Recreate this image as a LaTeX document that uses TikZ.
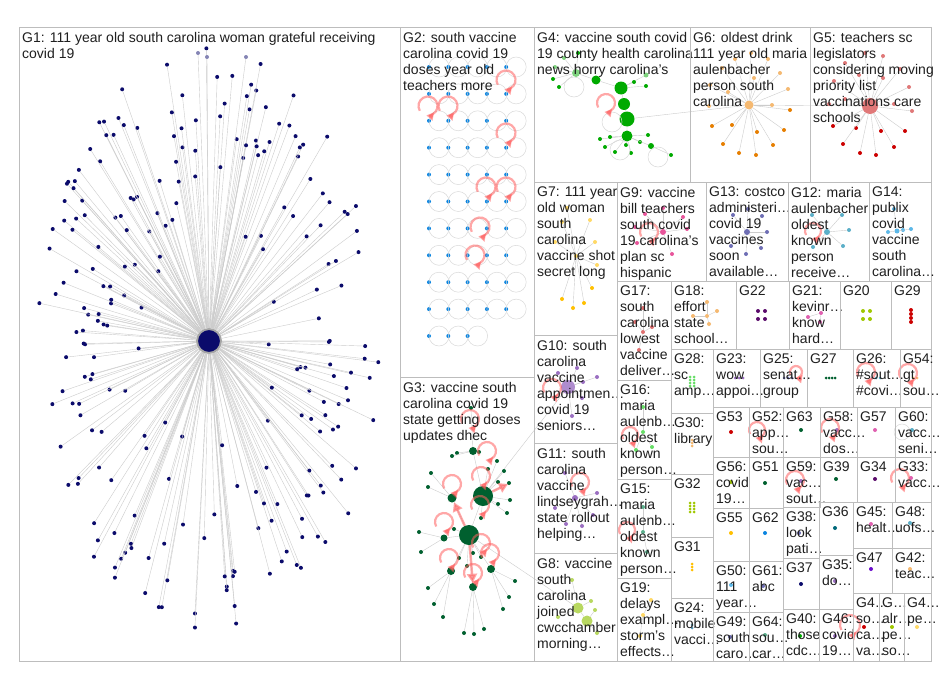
\documentclass[tikz,border=0pt]{standalone}
\usepackage{fontspec}
\setmainfont{Liberation Sans}
\usetikzlibrary{arrows.meta}

\definecolor{cframe}{HTML}{BDBDBD}
\definecolor{cnavy}{HTML}{0B0B6B}
\definecolor{cblue}{HTML}{0A84E0}
\definecolor{cgreen}{HTML}{00AA00}
\definecolor{clgreen}{HTML}{7FD37F}
\definecolor{cdgreen}{HTML}{00602F}
\definecolor{corange}{HTML}{E67E00}
\definecolor{clorange}{HTML}{F5B971}
\definecolor{cred}{HTML}{CC0000}
\definecolor{clred}{HTML}{E07878}
\definecolor{cgold}{HTML}{FFC000}
\definecolor{clgold}{HTML}{FFD966}
\definecolor{cpink}{HTML}{E8559B}
\definecolor{cslate}{HTML}{6E6EB4}
\definecolor{cteal}{HTML}{5BAFC8}
\definecolor{cdteal}{HTML}{00687A}
\definecolor{csky}{HTML}{5CB8E8}
\definecolor{crose}{HTML}{E07070}
\definecolor{cplum}{HTML}{5A0A6B}
\definecolor{cpurple}{HTML}{6A0DCC}
\definecolor{cmagenta}{HTML}{E060B0}
\definecolor{clime}{HTML}{A0C800}
\definecolor{cviolet}{HTML}{9B6FC2}
\definecolor{cyellowgreen}{HTML}{B8D860}
\definecolor{cmint}{HTML}{66DD66}
\definecolor{cjade}{HTML}{5AAF8C}
\definecolor{csteel}{HTML}{5B9BB8}
\definecolor{cloop}{HTML}{FF6060}

\tikzset{
  box/.style={draw=cframe, line width=0.8pt},
  lbl/.style={anchor=north west, align=left, inner sep=0pt, text=black!88,
    font=\fontsize{14}{16}\selectfont},
  vtx/.style={circle, inner sep=0pt, minimum size=4pt, fill=#1},
  edge/.style={draw=black!20, line width=0.4pt},
  greyloop/.style={draw=black!15, line width=0.5pt},
  redloop/.style={draw=cloop, opacity=0.55, line width=2.2pt,
    -{Triangle[length=7pt,width=8pt]}},
  redarrow/.style={draw=cloop, opacity=0.55, line width=2.5pt,
    -{Triangle[length=9pt,width=10pt]}}
}

% group box with its label
\newcommand{\grp}[6]{%
  \draw[box] (#2,#3) rectangle (#4,#5);
  \node[lbl] (#1) at (#2+3,#3+5) {#6};}
% hub and its leaves
\newcommand{\hubstar}[3]{%
  \foreach \px/\py [count=\k] in {#3} {
    \node[vtx=#2] (#1-\k) at (\px,\py) {};
    \draw[edge] (#1) -- (#1-\k);
  }}
% self loops
\newcommand{\rloop}[3]{\draw[redloop] (#1,#2) ++(150:#3) arc[start angle=150, delta angle=310, radius=#3];}
\newcommand{\gloop}[3]{\draw[greyloop] (#1,#2) circle[radius=#3];}

\begin{document}
\begin{tikzpicture}[x=1pt,y=-1pt]
\useasboundingbox (0,0) rectangle (950,688);
\fill[white] (0,0) rectangle (950,688);

% G1: one hub and its many leaves
\node[circle, fill=cnavy, draw=black!35, line width=2pt, minimum size=24pt] (g1hub) at (209,341) {};
\pgfmathsetseed{2021}
\foreach \i in {1,...,230} {
  \pgfmathsetmacro\ang{360*rnd}
  \pgfmathsetmacro\rr{0.3+0.7*sqrt(rnd)}
  \node[vtx=cnavy] (g1-\i) at ({209+172*\rr*cos(\ang)},{341+294*\rr*sin(\ang)}) {};
  \draw[edge] (g1hub) -- (g1-\i);
}
\foreach \px/\py [count=\k] in {198/53, 207/57, 246/57} {
  \node[vtx=cnavy!50] (g1t-\k) at (\px,\py) {};
  \draw[edge] (g1hub) -- (g1t-\k);
}

% G2: grid of isolates with loops
\foreach \r in {0,...,10} \foreach \c in {0,...,4} {
  \pgfmathtruncatemacro\skipit{(\r==10)*(\c>2)}
  \ifnum\skipit=0
    \node[vtx=cblue] (g2-\r-\c) at ({429+19.3*\c},{67+26.9*\r}) {};
    \draw[greyloop] (g2-\r-\c.center) ++(10,0) circle[radius=10];
  \fi
}
\rloop{506}{80}{9.5}
\rloop{428}{106}{9.5}
\rloop{448}{106}{9.5}
\rloop{506}{133}{9.5}
\rloop{486}{187}{9.5}
\rloop{506}{187}{9.5}
\rloop{480}{227}{9.5}
\rloop{475}{255}{9.5}

% G3
\node[vtx=cdgreen, minimum size=20pt] (g3a) at (483,496) {};
\node[vtx=cdgreen, minimum size=20pt] (g3b) at (469,535) {};
\node[vtx=cdgreen, minimum size=9pt] (g3c) at (452,498) {};
\node[vtx=cdgreen, minimum size=8pt] (g3d) at (473,451) {};
\node[vtx=cdgreen, minimum size=7pt] (g3e) at (444,538) {};
\node[vtx=cdgreen, minimum size=8pt] (g3f) at (451,571) {};
\node[vtx=cdgreen, minimum size=8pt] (g3g) at (491,569) {};
\node[vtx=cdgreen, minimum size=8pt] (g3h) at (473,587) {};
\draw[edge] (g3a) -- (g3d) (g3a) -- (g3b) (g3b) -- (g3c) (g3b) -- (g3e)
  (g3b) -- (g3f) (g3b) -- (g3g) (g3b) -- (g3h);
\draw[edge] (g3a) -- (568,387) (g3b) -- (578,608);
\hubstar{g3d}{cdgreen}{457/453, 452/456, 479/452, 471/408}
\hubstar{g3a}{cdgreen}{497/461, 488/469, 504/471, 498/482, 509/483, 510/500, 498/504, 507/513, 481/518}
\hubstar{g3c}{cdgreen}{431/473, 428/487}
\hubstar{g3e}{cdgreen}{419/532, 421/552}
\hubstar{g3b}{cdgreen}{454/529, 459/558, 473/553, 481/557, 467/566}
\hubstar{g3g}{cdgreen}{515/581, 509/597, 503/609}
\hubstar{g3f}{cdgreen}{428/588, 434/604, 443/617}
\hubstar{g3h}{cdgreen}{464/633, 474/634, 484/629}
\rloop{470}{419}{9}
\rloop{487}{451}{9}
\rloop{452}{484}{9}
\rloop{481}{476}{9}
\rloop{480}{505}{9}
\rloop{444}{522}{9}
\rloop{449}{558}{9}
\rloop{473}{573}{9}
\rloop{490}{553}{9}
\rloop{481}{543}{9}
\draw[redarrow] (g3b) -- (g3c);
\draw[redarrow] (g3b) -- (g3h);
\draw[redarrow] (g3a) -- (508,484);

% G4
\node[vtx=cgreen, minimum size=13pt] (g4a) at (621,88) {};
\node[vtx=cgreen, minimum size=12pt] (g4b) at (624,104) {};
\node[vtx=cgreen, minimum size=15pt] (g4c) at (627,119) {};
\node[vtx=cgreen, minimum size=11pt] (g4d) at (627,136) {};
\node[vtx=cgreen, minimum size=9pt] (g4e) at (596,80) {};
\node[vtx=clgreen, minimum size=8pt] (g4f) at (576,73) {};
\node[vtx=clgreen, minimum size=5pt] (g4g) at (646,75) {};
\draw[edge] (g4a) -- (g4b) -- (g4c) -- (g4d) (g4a) -- (g4e) (g4a) -- (g4g) (g4e) -- (g4f);
\hubstar{g4f}{cgreen}{553/79, 559/87, 578/53}
\hubstar{g4f}{clgreen}{555/67, 564/58}
\hubstar{g4a}{cgreen}{634/82, 646/86}
\hubstar{g4d}{cgreen}{600/139, 610/137, 605/147, 615/152, 626/145, 631/153, 640/142, 648/135}
\node[vtx=cgreen, minimum size=6pt] (g4h) at (651,146) {};
\node[vtx=cgreen] (g4i) at (671,155) {};
\draw[edge] (g4d) -- (g4h) -- (g4i);
\gloop{574}{87}{10}
\gloop{612}{122}{10}
\gloop{620}{150}{10}
\gloop{658}{157}{10}
\rloop{606}{103}{9}

% G6 and G5
\node[vtx=clorange, minimum size=9pt] (g6hub) at (749,105) {};
\node[vtx=clred, minimum size=16pt] (g5hub) at (870,106) {};
\draw[edge] (g4c) -- (g6hub) -- (g5hub);
\hubstar{g6hub}{clorange}{735/59, 751/53, 768/59, 722/68, 754/78, 780/73, 710/85, 728/92, 788/89, 709/106, 772/105}
\hubstar{g6hub}{corange}{790/110, 712/126, 732/125, 784/130, 757/132, 723/144, 773/145, 739/153, 756/155}
\hubstar{g5hub}{clred}{865/53, 883/56, 845/63, 859/75, 883/78, 834/81, 900/69, 909/87, 912/111, 894/104, 829/104, 845/99}
\hubstar{g5hub}{cred}{833/126, 856/128, 881/131, 905/131, 843/144, 894/147, 860/153, 876/155}

% G7, G9, G13, G12, G14
\node[vtx=clgold] (g7hub) at (576,256) {};
\hubstar{g7hub}{clgold}{567/208, 562/222, 590/220, 555/242, 595/242, 597/265}
\hubstar{g7hub}{cgold}{592/288, 562/299, 584/303, 573/308}
\node[vtx=cpink, minimum size=6pt] (g9hub) at (663,232) {};
\hubstar{g9hub}{cpink}{663/208, 645/214, 683/217, 687/229, 635/227, 637/243, 672/254}
\rloop{649}{232}{9}
\node[vtx=cslate, minimum size=6pt] (g13hub) at (747,232) {};
\hubstar{g13hub}{cslate}{748/209, 733/215, 762/216, 767/232, 731/246, 761/248, 746/254}
\node[vtx=cteal, minimum size=6pt] (g12hub) at (827,232) {};
\hubstar{g12hub}{cteal}{812/215, 842/215, 849/230, 843/246, 813/247}
\rloop{813}{231}{8}
\node[vtx=csky, minimum size=5pt] (g14hub) at (897,231) {};
\hubstar{g14hub}{csky}{894/209, 888/232, 903/230, 911/229}

% G17, G18, G22, G21, G20, G29
\node[vtx=crose] (g17hub) at (643,332) {};
\hubstar{g17hub}{crose}{643/308, 635/322, 652/327, 639/350}
\node[vtx=clorange] (g18hub) at (707,316) {};
\hubstar{g18hub}{clorange}{707/302, 717/311, 693/316, 709/324}
\node[vtx=cmagenta] (g21hub) at (821,313) {};
\hubstar{g21hub}{cmagenta}{808/317, 820/322}
\foreach \px/\py [count=\k] in {758/311, 765/311, 758/319, 765/319} \node[vtx=cplum] (g22-\k) at (\px,\py) {};
\foreach \px/\py [count=\k] in {863/311, 870/311, 863/319, 870/319} \node[vtx=clime] (g20-\k) at (\px,\py) {};
\foreach \py [count=\k] in {310, 314, 318, 322} \node[vtx=cred] (g29-\k) at (911,\py) {};

% G10, G11, G8
\node[vtx=cviolet!80, minimum size=14pt] (g10hub) at (568,387) {};
\hubstar{g10hub}{cviolet}{577/368, 597/377, 583/382, 582/398, 572/416, 558/373}
\rloop{552}{388}{9}
\node[vtx=cviolet, minimum size=6pt] (g11hub) at (575,498) {};
\hubstar{g11hub}{cviolet}{565/473, 597/493, 555/508, 566/524, 582/526, 593/515}
\rloop{580}{482}{9}
\node[vtx=cyellowgreen, minimum size=11pt] (g8a) at (578,608) {};
\node[vtx=cyellowgreen, minimum size=11pt] (g8b) at (587,621) {};
\draw[edge] (g8a) -- (g8b);
\hubstar{g8a}{cyellowgreen}{572/580, 591/601, 558/617}
\hubstar{g8b}{cyellowgreen}{595/610, 597/633}

% G16, G15, G19
\node[vtx=cmint] (g16hub) at (643,432) {};
\hubstar{g16hub}{cmint}{643/407, 636/450, 652/447}
\rloop{630}{435}{8}
\node[vtx=cjade] (g15hub) at (643,532) {};
\hubstar{g15hub}{cjade}{643/507, 647/552}
\rloop{627}{530}{8}
\node[vtx=clgold] (g19hub) at (643,615) {};
\hubstar{g19hub}{clgold}{651/600, 640/636}

% small clusters
\foreach \py [count=\k] in {377, 380, 383, 386} {
  \node[vtx=cmint, minimum size=3pt] (g28a-\k) at (690,\py) {};
  \node[vtx=cmint, minimum size=3pt] (g28b-\k) at (694,\py) {};}
\foreach \px [count=\k] in {735, 739, 743} \node[vtx=cviolet, minimum size=3pt] (g23-\k) at (\px,378) {};
\foreach \px [count=\k] in {784, 788, 792} \node[vtx=cslate, minimum size=3pt] (g25-\k) at (\px,378) {};
\rloop{796}{372}{6}
\foreach \px [count=\k] in {826, 829, 832, 835} \node[vtx=cdgreen, minimum size=3pt] (g27-\k) at (\px,378) {};
\foreach \px [count=\k] in {872, 876, 880} \node[vtx=cteal, minimum size=3pt] (g26-\k) at (\px,378) {};
\rloop{866}{372}{9}
\foreach \px [count=\k] in {913, 917} \node[vtx=clorange, minimum size=3pt] (g54-\k) at (\px,378) {};
\rloop{908}{373}{9}
\foreach \py [count=\k] in {440, 443, 446} \node[vtx=clorange, minimum size=3pt] (g30-\k) at (692,\py) {};
\foreach \py [count=\k] in {503, 506, 509, 512} {
  \node[vtx=clime, minimum size=3pt] (g32a-\k) at (690,\py) {};
  \node[vtx=clime, minimum size=3pt] (g32b-\k) at (694,\py) {};}
\foreach \py [count=\k] in {564, 567, 570} \node[vtx=cgold, minimum size=3pt] (g31-\k) at (692,\py) {};
\foreach \py [count=\k] in {625, 628} \node[vtx=csteel, minimum size=3pt] (g24-\k) at (692,\py) {};

% single vertices
\node[vtx=cred] (v53) at (731,432) {};
\rloop{757}{430}{8}
\node[vtx=cdgreen] (v63) at (801,430) {};
\node[vtx=cviolet] (v58) at (837,430) {};
\rloop{830}{428}{9}
\node[vtx=cmagenta] (v57) at (875,430) {};
\node[vtx=cteal] (v60) at (912,430) {};
\gloop{902}{432}{8}
\node[vtx=clime] (v56) at (731,482) {};
\node[vtx=cdgreen] (v51) at (765,483) {};
\node[vtx=cviolet] (v59) at (801,481) {};
\rloop{795}{480}{9}
\node[vtx=cdgreen] (v39) at (836,479) {};
\node[vtx=cplum] (v34) at (875,479) {};
\node[vtx=cmagenta] (v33) at (911,478) {};
\rloop{900}{478}{9}
\node[vtx=cgold] (v55) at (731,533) {};
\node[vtx=cblue] (v62) at (765,533) {};
\node[vtx=cslate] (v38) at (799,533) {};
\node[vtx=cdteal] (v36) at (835,528) {};
\node[vtx=cmagenta] (v45) at (871,524) {};
\node[vtx=cteal] (v48) at (910,523) {};
\node[vtx=cpurple] (v47) at (871,569) {};
\node[vtx=clorange] (v42) at (910,569) {};
\node[vtx=csky] (v50) at (731,585) {};
\node[vtx=cslate] (v61) at (763,586) {};
\node[vtx=cnavy] (v37) at (801,584) {};
\node[vtx=cviolet] (v35) at (835,581) {};
\node[vtx=cslate] (v49) at (730,637) {};
\node[vtx=cjade] (v64) at (765,635) {};
\node[vtx=cgreen] (v40) at (800,636) {};
\node[vtx=cviolet] (v46) at (835,636) {};
\rloop{850}{625}{10}
\node[vtx=cred] (v41) at (864,627) {};
\node[vtx=clime] (v43) at (892,627) {};
\node[vtx=clgold] (v44) at (917,627) {};

% boxes and labels
\grp{t1}{19}{27}{400}{661}{G1: 111 year old south carolina woman grateful receiving\\covid 19}
\grp{t2}{400}{27}{534}{377}{G2: south vaccine\\carolina covid 19\\doses year old\\teachers more}
\grp{t3}{400}{377}{534}{661}{G3: vaccine south\\carolina covid 19\\state getting doses\\updates dhec}
\grp{t4}{534}{27}{690}{182}{G4: vaccine south covid\\19 county health carolina\\news horry carolina's}
\grp{t6}{690}{27}{810}{182}{G6: oldest drink\\111 year old maria\\aulenbacher\\person south\\carolina}
\grp{t5}{810}{27}{931}{182}{G5: teachers sc\\legislators\\considering moving\\priority list\\vaccinations care\\schools}
\grp{t7}{534}{182}{617}{335}{G7: 111 year\\old woman\\south\\carolina\\vaccine shot\\secret long}
\grp{t9}{617}{182}{706}{281}{G9: vaccine\\bill teachers\\south covid\\19 carolina's\\plan sc\\hispanic}
\grp{t13}{706}{182}{788}{281}{G13: costco\\administeri…\\covid 19\\vaccines\\soon\\available…}
\grp{t12}{788}{182}{869}{281}{G12: maria\\aulenbacher\\oldest\\known\\person\\receive…}
\grp{t14}{869}{182}{931}{281}{G14:\\publix\\covid\\vaccine\\south\\carolina…}
\grp{t17}{617}{281}{671}{380}{G17:\\south\\carolina\\lowest\\vaccine\\deliver…}
\grp{t18}{671}{281}{736}{349}{G18:\\effort\\state\\school…}
\grp{t22}{736}{281}{789}{349}{G22}
\grp{t21}{789}{281}{840}{349}{G21:\\kevinr…\\know\\hard…}
\grp{t20}{840}{281}{891}{349}{G20}
\grp{t29}{891}{281}{931}{349}{G29}
\grp{t10}{534}{335}{617}{443}{G10: south\\carolina\\vaccine\\appointmen…\\covid 19\\seniors…}
\grp{t11}{534}{443}{617}{553}{G11: south\\carolina\\vaccine\\lindseygrah…\\state rollout\\helping…}
\grp{t8}{534}{553}{617}{661}{G8: vaccine\\south\\carolina\\joined\\cwcchamber\\morning…}
\grp{t16}{617}{380}{671}{479}{G16:\\maria\\aulenb…\\oldest\\known\\person…}
\grp{t15}{617}{479}{671}{578}{G15:\\maria\\aulenb…\\oldest\\known\\person…}
\grp{t19}{617}{578}{671}{661}{G19:\\delays\\exampl…\\storm's\\effects…}
\grp{t28}{671}{349}{713}{413}{G28:\\sc\\amp…}
\grp{t23}{713}{349}{760}{407}{G23:\\wow\\appoi…}
\grp{t25}{760}{349}{807}{407}{G25:\\senat…\\group}
\grp{t27}{807}{349}{853}{407}{G27}
\grp{t26}{853}{349}{900}{407}{G26:\\\#sout…\\\#covi…}
\grp{t54}{900}{349}{931}{407}{G54:\\gt\\sou…}
\grp{t30}{671}{413}{713}{474}{G30:\\library}
\grp{t32}{671}{474}{713}{537}{G32}
\grp{t31}{671}{537}{713}{598}{G31}
\grp{t24}{671}{598}{713}{661}{G24:\\mobile\\vacci…}
\grp{t53}{713}{407}{749}{457}{G53}
\grp{t52}{749}{407}{783}{457}{G52:\\app…\\sou…}
\grp{t63}{783}{407}{820}{457}{G63}
\grp{t58}{820}{407}{857}{457}{G58:\\vacc…\\dos…}
\grp{t57}{857}{407}{895}{457}{G57}
\grp{t60}{895}{407}{931}{457}{G60:\\vacc…\\seni…}
\grp{t56}{713}{457}{749}{508}{G56:\\covid\\19…}
\grp{t51}{749}{457}{783}{508}{G51}
\grp{t59}{783}{457}{820}{507}{G59:\\vac…\\sout…}
\grp{t39}{820}{457}{857}{502}{G39}
\grp{t34}{857}{457}{895}{502}{G34}
\grp{t33}{895}{457}{931}{502}{G33:\\vacc…}
\grp{t55}{713}{508}{749}{561}{G55}
\grp{t62}{749}{508}{783}{561}{G62}
\grp{t50}{713}{561}{749}{612}{G50:\\111\\year…}
\grp{t61}{749}{561}{783}{612}{G61:\\abc}
\grp{t49}{713}{612}{749}{661}{G49:\\south\\caro…}
\grp{t64}{749}{612}{783}{661}{G64:\\sou…\\car…}
\grp{t38}{783}{507}{819}{558}{G38:\\look\\pati…}
\grp{t37}{783}{558}{819}{609}{G37}
\grp{t40}{783}{609}{819}{661}{G40:\\those\\cdc…}
\grp{t36}{819}{502}{853}{555}{G36}
\grp{t35}{819}{555}{853}{609}{G35:\\do…}
\grp{t46}{819}{609}{853}{661}{G46:\\covid\\19…}
\grp{t45}{853}{502}{892}{548}{G45:\\healt…}
\grp{t48}{892}{502}{931}{548}{G48:\\uofs…}
\grp{t47}{853}{548}{892}{593}{G47}
\grp{t42}{892}{548}{931}{593}{G42:\\teac…}
\grp{t41}{853}{593}{879}{661}{G4…\\so…\\ca…\\va…}
\grp{t43}{879}{593}{904}{661}{G…\\alr…\\pe…\\so…}
\grp{t44}{904}{593}{931}{661}{G4…\\pe…}
\end{tikzpicture}
\end{document}
